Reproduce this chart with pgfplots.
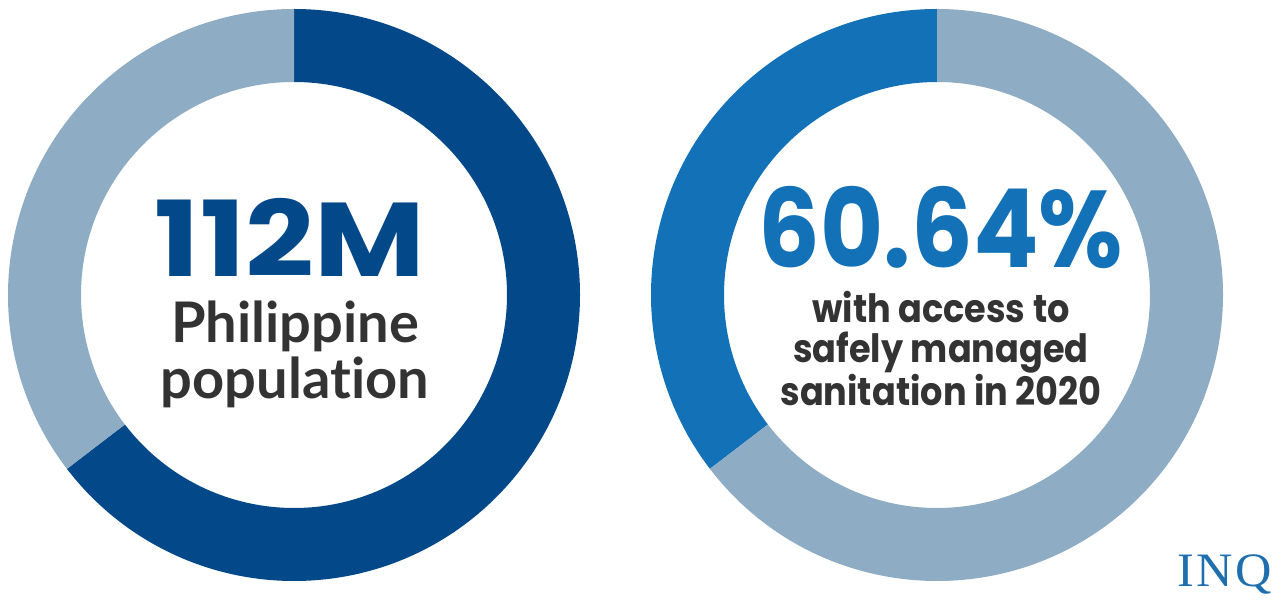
\documentclass[border=0pt]{standalone}
\usepackage{pgfplots}
\pgfplotsset{compat=1.18}
\usepackage{pgfplotstable}
\usepackage{fontspec}
\setmainfont{Lato}
\newfontfamily\lato[Ligatures=NoCommon]{Lato}
\newfontfamily\popwide[FakeStretch=1.15]{Poppins}
\newfontfamily\popnarrow[FakeStretch=0.89]{Poppins}
\newfontfamily\popsmall[FakeStretch=0.9]{Poppins}
\newfontfamily\inq[LetterSpace=5,FakeStretch=1.05]{Liberation Serif}
\definecolor{darkblue}{HTML}{03498A}
\definecolor{lightblue}{HTML}{8EADC5}
\definecolor{midblue}{HTML}{1271B7}
\definecolor{txt}{HTML}{333333}
\definecolor{inqblue}{HTML}{1F6FAE}
% slice shares (percent of the ring)
\pgfplotstableread{
slice share
main 64.6
rest 35.4
}\leftdata
\pgfplotstableread{
slice share
main 35.4
rest 64.6
}\rightdata
\begin{document}
\begin{tikzpicture}
\begin{axis}[
  x=0.5pt, y=0.5pt,
  xmin=0, xmax=1285, ymin=0, ymax=600,
  hide axis, scale only axis, clip=false,
]
\coordinate (bl) at (axis cs:0,0);
\coordinate (tr) at (axis cs:1285,600);
\pgfplotstablegetelem{0}{share}\of\leftdata \let\lmain\pgfplotsretval
\pgfplotstablegetelem{0}{share}\of\rightdata \let\rmain\pgfplotsretval
\pgfmathsetmacro{\la}{90-3.6*\lmain}
\pgfmathsetmacro{\ra}{90+3.6*\rmain}
% left donut: centre (294,305), radii 286 / 213 px
\fill[darkblue] ([shift={(90:143pt)}]axis cs:294,305) arc[start angle=90,end angle=\la,radius=143pt]
  -- ([shift={(\la:106.5pt)}]axis cs:294,305) arc[start angle=\la,end angle=90,radius=106.5pt] -- cycle;
\fill[lightblue] ([shift={(\la:143pt)}]axis cs:294,305) arc[start angle=\la,end angle=-270,radius=143pt]
  -- ([shift={(-270:106.5pt)}]axis cs:294,305) arc[start angle=-270,end angle=\la,radius=106.5pt] -- cycle;
% right donut: centre (937,305)
\fill[midblue] ([shift={(90:143pt)}]axis cs:937,305) arc[start angle=90,end angle=\ra,radius=143pt]
  -- ([shift={(\ra:106.5pt)}]axis cs:937,305) arc[start angle=\ra,end angle=90,radius=106.5pt] -- cycle;
\fill[lightblue] ([shift={(\ra:143pt)}]axis cs:937,305) arc[start angle=\ra,end angle=450,radius=143pt]
  -- ([shift={(450:106.5pt)}]axis cs:937,305) arc[start angle=450,end angle=\ra,radius=106.5pt] -- cycle;
% texts
\node[anchor=base, text=darkblue, inner sep=0pt, text depth=0pt] at (axis cs:290,323) {\popwide\bfseries\fontsize{52.4}{52}\selectfont 112M};
\node[anchor=base, text=txt, inner sep=0pt, text height=14pt] at (axis cs:295,257) {\lato\bfseries\fontsize{28}{28}\selectfont Philippine};
\node[anchor=base, text=txt, inner sep=0pt, text height=14pt] at (axis cs:295,202) {\lato\bfseries\fontsize{28}{28}\selectfont population};
\node[anchor=base, text=midblue, inner sep=0pt, text depth=0pt] at (axis cs:941,332) {\popnarrow\bfseries\fontsize{54.5}{54}\selectfont 60.64\%};
\node[anchor=base, text=txt, inner sep=0pt, text height=10pt] at (axis cs:941,278) {\popsmall\bfseries\fontsize{19.5}{20}\selectfont with access to};
\node[anchor=base, text=txt, inner sep=0pt, text height=10pt] at (axis cs:941,238) {\popsmall\bfseries\fontsize{19.5}{20}\selectfont safely managed};
\node[anchor=base, text=txt, inner sep=0pt, text height=10pt] at (axis cs:941,195) {\popsmall\bfseries\fontsize{19.5}{20}\selectfont sanitation in 2020};
\node[anchor=base, text=inqblue, inner sep=0pt] at (axis cs:1225,14) {\inq\fontsize{24}{24}\selectfont INQ};
\end{axis}
\pgfresetboundingbox
\path[use as bounding box] (bl) rectangle (tr);
\end{tikzpicture}
\end{document}
